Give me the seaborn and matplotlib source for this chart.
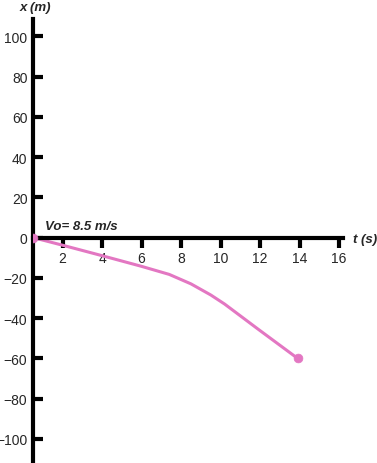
import matplotlib
matplotlib.use("Agg")
import matplotlib.pyplot as plt
import seaborn as sns
import pandas as pd

# position vs time
t_vals = [0.5, 2, 4, 6, 7.4, 8.5, 9.5, 10.2, 11.9, 13.9]
x_vals = [0, -3.8, -9, -14.3, -18.3, -23, -28.5, -33, -45.5, -60]
x_ticks = [2, 4, 6, 8, 10, 12, 14, 16]
y_ticks = [-100, -80, -60, -40, -20, 0, 20, 40, 60, 80, 100]
v0_label = "Vo= 8.5 m/s"

sns.set_style("white")
plt.rcParams["font.family"] = ["Liberation Sans", "DejaVu Sans"]

W, H = 377, 464
fig = plt.figure(figsize=(W / 100, H / 100), dpi=100)
ax = fig.add_axes([33 / W, 0, (343 - 33) / W, 1 - 20 / H])

df = pd.DataFrame({"t": t_vals, "x": x_vals})
pink = "#e377c2"
sns.lineplot(data=df, x="t", y="x", color=pink, linewidth=2.2, ax=ax)
ends = df.iloc[[0, -1]]
sns.scatterplot(data=ends, x="t", y="x", color=pink, s=40, edgecolor=pink, ax=ax, zorder=3)

ax.set_xlim(0.5, 16.2)
ax.set_ylim(-112, 108.6)
ax.spines["top"].set_visible(False)
ax.spines["right"].set_visible(False)
ax.spines["bottom"].set_position(("data", 0))
for s in ["left", "bottom"]:
    ax.spines[s].set_linewidth(3)
    ax.spines[s].set_color("black")

ax.set_xticks(x_ticks)
ax.set_yticks(y_ticks)
ax.tick_params(axis="x", bottom=True, direction="out", length=7, width=3,
               color="black", labelsize=10, pad=3)
ax.tick_params(axis="y", left=True, direction="in", length=7, width=3,
               color="black", labelsize=10, pad=4)
ax.set_xlabel("")
ax.set_ylabel("")

fig.text(20 / W, 1 - 8 / H, "x (m)", fontsize=9.5, fontweight="bold",
         fontstyle="italic", va="center", ha="left")
fig.text(353 / W, 1 - 240 / H, "t (s)", fontsize=9.5, fontweight="bold",
         fontstyle="italic", va="center", ha="left")
fig.text(45 / W, 1 - 227 / H, v0_label, fontsize=9.5, fontweight="bold",
         fontstyle="italic", va="center", ha="left")

fig.savefig("out.png", dpi=100)
